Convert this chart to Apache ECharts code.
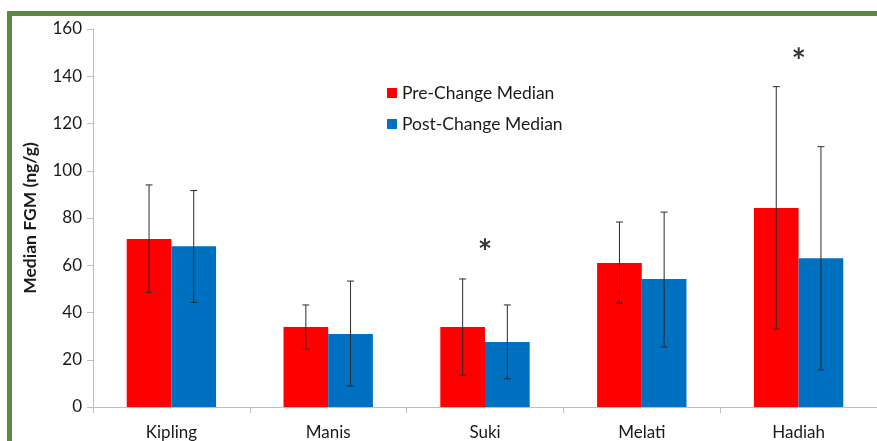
<!DOCTYPE html>
<html>
<head>
<meta charset="utf-8">
<script src="https://cdn.jsdelivr.net/npm/echarts@6/dist/echarts.min.js"></script>
<style>
  html, body { margin: 0; padding: 0; background: #fff; }
  #chart { width: 877px; height: 441px; }
</style>
</head>
<body>
<div id="chart"></div>
<script>
// Elephants and their median faecal glucocorticoid metabolite levels
const categories = ['Kipling', 'Manis', 'Suki', 'Melati', 'Hadiah'];
const preMedian  = [71.1, 33.9, 33.9, 61.0, 84.2];
const postMedian = [68.0, 30.9, 27.5, 54.2, 63.0];
// error bar extents [low, high]
const preErr  = [[48.5, 94.0], [24.5, 43.2], [13.5, 54.2], [44.0, 78.3], [33.0, 135.6]];
const postErr = [[44.3, 91.6], [8.9, 53.3], [11.9, 43.2], [25.4, 82.5], [15.7, 110.2]];
// significance markers
const sigMarks = [['Suki', 65], ['Hadiah', 146]];
const yTicks = { min: 0, max: 160, interval: 20 };

const GAP = 0.43;   // fraction of band left empty around a bar pair

function errorSeries(name, errs, side) {
  return {
    type: 'custom',
    name: name + ' error',
    z: 5,
    silent: true,
    data: errs.map((e, i) => [i, e[0], e[1]]),
    encode: { x: 0, y: [1, 2] },
    renderItem: function (params, api) {
      const band = api.size([1, 0])[0];
      const barW = band * (1 - GAP) / 2;
      const cx = api.coord([api.value(0), 0])[0] + side * barW / 2;
      const lo = api.coord([api.value(0), api.value(1)])[1];
      const hi = api.coord([api.value(0), api.value(2)])[1];
      const cap = 3.5;
      const style = { stroke: '#2b2b2b', lineWidth: 1 };
      return {
        type: 'group',
        children: [
          { type: 'line', shape: { x1: cx, y1: hi, x2: cx, y2: lo }, style: style },
          { type: 'line', shape: { x1: cx - cap, y1: hi, x2: cx + cap, y2: hi }, style: style },
          { type: 'line', shape: { x1: cx - cap, y1: lo, x2: cx + cap, y2: lo }, style: style }
        ]
      };
    }
  };
}

const chart = echarts.init(document.getElementById('chart'));
chart.setOption({
  animation: false,
  backgroundColor: '#ffffff',
  textStyle: { fontFamily: 'Lato, "Open Sans", sans-serif' },
  graphic: [
    { type: 'rect', shape: { x: 7, y: 11, width: 870, height: 5 }, style: { fill: '#5c8a3c' } },
    { type: 'rect', shape: { x: 7, y: 11, width: 5, height: 430 }, style: { fill: '#5c8a3c' } }
  ],
  grid: { left: 93, right: 0, top: 29, bottom: 34, containLabel: false },
  legend: {
    orient: 'vertical',
    left: 382,
    top: 79,
    itemWidth: 10,
    itemHeight: 10,
    itemGap: 13,
    icon: 'rect',
    data: ['Pre-Change Median', 'Post-Change Median'],
    textStyle: { fontSize: 17.5, color: '#1a1a1a', fontFamily: 'Lato, sans-serif' }
  },
  xAxis: {
    type: 'category',
    data: categories,
    axisLine: { lineStyle: { color: '#bfbfbf', width: 1 } },
    axisTick: { show: true, length: 6, lineStyle: { color: '#bfbfbf' } },
    axisLabel: { fontSize: 17, color: '#1a1a1a', margin: 17 }
  },
  yAxis: {
    type: 'value',
    min: yTicks.min,
    max: yTicks.max,
    interval: yTicks.interval,
    name: 'Median FGM (ng/g)',
    nameLocation: 'middle',
    nameGap: 54,
    nameTextStyle: { fontSize: 17.5, fontWeight: 'bold', color: '#1a1a1a' },
    splitLine: { show: false },
    axisLine: { show: true, lineStyle: { color: '#bfbfbf', width: 1 } },
    axisTick: { show: true, length: 6, lineStyle: { color: '#bfbfbf' } },
    axisLabel: { fontSize: 17, color: '#1a1a1a', margin: 11 }
  },
  series: [
    {
      name: 'Pre-Change Median',
      type: 'bar',
      data: preMedian,
      barGap: '0%',
      barCategoryGap: (GAP * 100) + '%',
      itemStyle: { color: '#ff0000' }
    },
    {
      name: 'Post-Change Median',
      type: 'bar',
      data: postMedian,
      barGap: '0%',
      barCategoryGap: (GAP * 100) + '%',
      itemStyle: { color: '#0070c0' }
    },
    errorSeries('Pre-Change Median', preErr, -1),
    errorSeries('Post-Change Median', postErr, 1),
    {
      type: 'scatter',
      name: 'significance',
      symbolSize: 0,
      silent: true,
      data: sigMarks,
      label: {
        show: true,
        position: 'inside',
        formatter: '*',
        fontSize: 34,
        fontWeight: 'bold',
        color: '#000',
        fontFamily: 'Lato, sans-serif'
      }
    }
  ]
});
</script>
</body>
</html>
